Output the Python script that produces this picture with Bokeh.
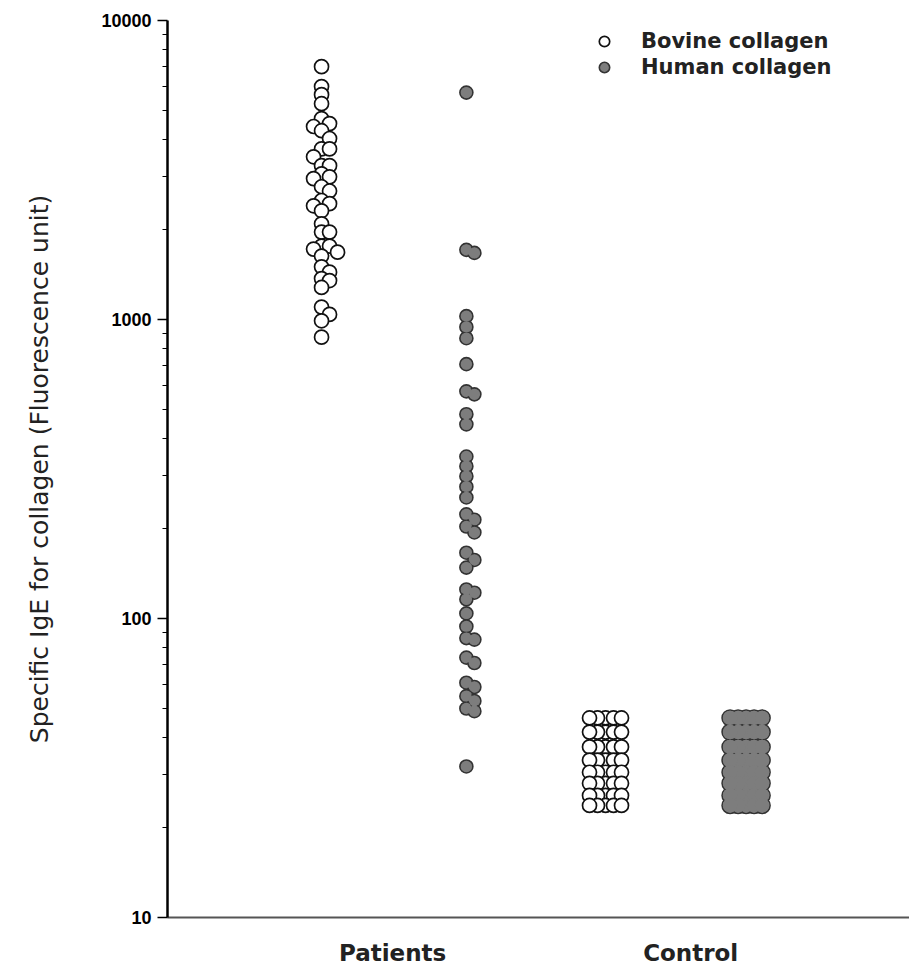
import math
from bokeh.plotting import figure
from bokeh.models import (Range1d, FixedTicker, BasicTickFormatter, Legend,
                          LegendItem)
from bokeh.embed import file_html
from bokeh.resources import INLINE

# ---------------- data ----------------
groups = ["Patients", "Control"]
series = ["Bovine collagen", "Human collagen"]
y_ticks = [10, 100, 1000, 10000]
y_tick_labels = ["10", "100", "1000", "10000"]
y_axis_title = "Specific IgE for collagen (Fluorescence unit)"

bovine_patients = [7010, 6010, 5650, 5270, 4700, 4520, 4420, 4280, 4030, 3720,
                   3720, 3500, 3270, 3270, 3070, 3000, 2960, 2780, 2690, 2500,
                   2440, 2400, 2310, 2090, 1960, 1960, 1760, 1760, 1720, 1680,
                   1630, 1500, 1440, 1370, 1350, 1280, 1100, 1040, 990, 873]

human_patients = [5740, 1710, 1670, 1026, 944, 866, 709, 575, 562, 482,
                  446, 348, 323, 299, 276, 254, 223, 214, 203, 194,
                  166, 157, 148, 125, 122, 116, 104, 94, 86, 85,
                  74, 71, 61, 59, 55, 53, 50, 49, 32]

bovine_control = [46.5, 46.5, 46.5, 46.5, 46.5,
                  41.7, 41.7, 41.7, 41.7, 41.7,
                  37.2, 37.2, 37.2, 37.2, 37.2,
                  33.6, 33.6, 33.6, 33.6, 33.6,
                  30.6, 30.6, 30.6, 30.6, 30.6,
                  28.1, 28.1, 28.1, 28.1, 28.1,
                  25.6, 25.6, 25.6, 25.6, 25.6,
                  23.7, 23.7, 23.7, 23.7, 23.7]

human_control = [46.5, 46.5, 46.5, 46.5, 46.5,
                 41.7, 41.7, 41.7, 41.7, 41.7,
                 37.2, 37.2, 37.2, 37.2, 37.2,
                 33.6, 33.6, 33.6, 33.6, 33.6,
                 30.6, 30.6, 30.6, 30.6, 30.6,
                 28.1, 28.1, 28.1, 28.1, 28.1,
                 25.6, 25.6, 25.6, 25.6, 25.6,
                 23.7, 23.7, 23.7, 23.7, 23.7]

# ---------------- layout ----------------
W, H = 909, 974
LEFT, TOP, BOTTOM = 167, 20, 57
X0, X1 = -0.085, 5.141
px_per_unit = (W - LEFT) / (X1 - X0)
px_per_decade = (H - TOP - BOTTOM) / 3.0

col_pos = {"bp": 1.0, "hp": 2.02, "bc": 3.0, "hc": 3.99}
label_pos = [1.5, 3.6]


def swarm(values, center, gap=8.0):
    """Simple beeswarm: shift overlapping points sideways (pixel space)."""
    placed, xs = [], []
    for v in values:
        y = math.log10(v) * px_per_decade
        k = 0
        while True:
            off = ((k + 1) // 2) * gap * (1 if k % 2 else -1)
            if all((off - px) ** 2 + (y - py) ** 2 >= gap * gap - 1e-6
                   for px, py in placed):
                break
            k += 1
        placed.append((off, y))
        xs.append(center + off / px_per_unit)
    return xs


p = figure(width=W, height=H, y_axis_type="log",
           x_range=Range1d(X0, X1), y_range=Range1d(10, 10000),
           output_backend="svg", toolbar_location=None,
           min_border_left=LEFT, min_border_right=0,
           min_border_top=TOP, min_border_bottom=BOTTOM)
p.outline_line_color = None
p.xgrid.visible = False
p.ygrid.visible = False
p.background_fill_color = "white"

FONT = "DejaVu Sans"
TICKFONT = "Liberation Sans"
GRAY = "#7d7d7d"
DARK = "#333333"

bov_style = dict(marker="circle", size=14, fill_color="white",
                 line_color="#111111", line_width=1.7)
hum_style = dict(marker="circle", size=13, fill_color=GRAY,
                 line_color=DARK, line_width=1.6)

xs_bp = swarm(bovine_patients, col_pos["bp"])
xs_hp = swarm(human_patients, col_pos["hp"])
xs_bc = swarm(bovine_control, col_pos["bc"])
xs_hc = swarm(human_control, col_pos["hc"])

r_bp = p.scatter(x=xs_bp, y=bovine_patients, **bov_style)
p.scatter(x=xs_bc, y=bovine_control, **bov_style)

r_hp = p.scatter(x=xs_hp, y=human_patients, **hum_style)
# inner fill on top so that overlapping human dots merge into blobs
p.scatter(x=xs_hp, y=human_patients, marker="circle", size=10.5,
          fill_color=GRAY, line_color=None)
p.scatter(x=xs_hc, y=human_control, marker="circle", size=16,
          fill_color=GRAY, line_color=DARK, line_width=1.6)
p.scatter(x=xs_hc, y=human_control, marker="circle", size=14.5,
          fill_color=GRAY, line_color=None)

# y axis
minor = [m * 10 ** e for e in range(1, 4) for m in range(2, 10)]
ya = p.yaxis[0]
ya.ticker = FixedTicker(ticks=y_ticks, minor_ticks=minor)
ya.formatter = BasicTickFormatter(use_scientific=False)
ya.major_label_overrides = {float(t): s for t, s in zip(y_ticks, y_tick_labels)}
ya.axis_line_color = "black"
ya.axis_line_width = 2.5
ya.major_tick_out = 10
ya.major_tick_in = 0
ya.minor_tick_out = 5
ya.minor_tick_in = 0
ya.major_tick_line_width = 1.5
ya.minor_tick_line_width = 1.2
ya.major_label_text_font = TICKFONT
ya.major_label_text_font_style = "bold"
ya.major_label_text_font_size = "18px"
ya.major_label_text_color = "black"
ya.major_label_standoff = 6
ya.axis_label = y_axis_title
ya.axis_label_text_font = FONT
ya.axis_label_text_font_style = "normal"
ya.axis_label_text_font_size = "25px"
ya.axis_label_text_color = "#222222"
ya.axis_label_standoff = 44

# x axis
xa = p.xaxis[0]
xa.ticker = FixedTicker(ticks=label_pos)
xa.major_label_overrides = {lp: g for lp, g in zip(label_pos, groups)}
xa.axis_line_color = "#555555"
xa.axis_line_width = 2
xa.major_tick_out = 0
xa.major_tick_in = 0
xa.minor_tick_out = 0
xa.minor_tick_in = 0
xa.major_label_text_font = FONT
xa.major_label_text_font_style = "bold"
xa.major_label_text_font_size = "23px"
xa.major_label_text_color = "#222222"
xa.major_label_standoff = 22

legend = Legend(items=[LegendItem(label=series[0], renderers=[r_bp]),
                       LegendItem(label=series[1], renderers=[r_hp])],
                location=(424, 837), orientation="vertical",
                glyph_width=26, glyph_height=26, spacing=-6,
                label_standoff=24, padding=0, margin=0,
                border_line_alpha=0, background_fill_alpha=0,
                label_text_font=FONT, label_text_font_style="bold",
                label_text_font_size="21px", label_text_color="#222222")
p.add_layout(legend)

open("out.html", "w").write(file_html(p, INLINE))
